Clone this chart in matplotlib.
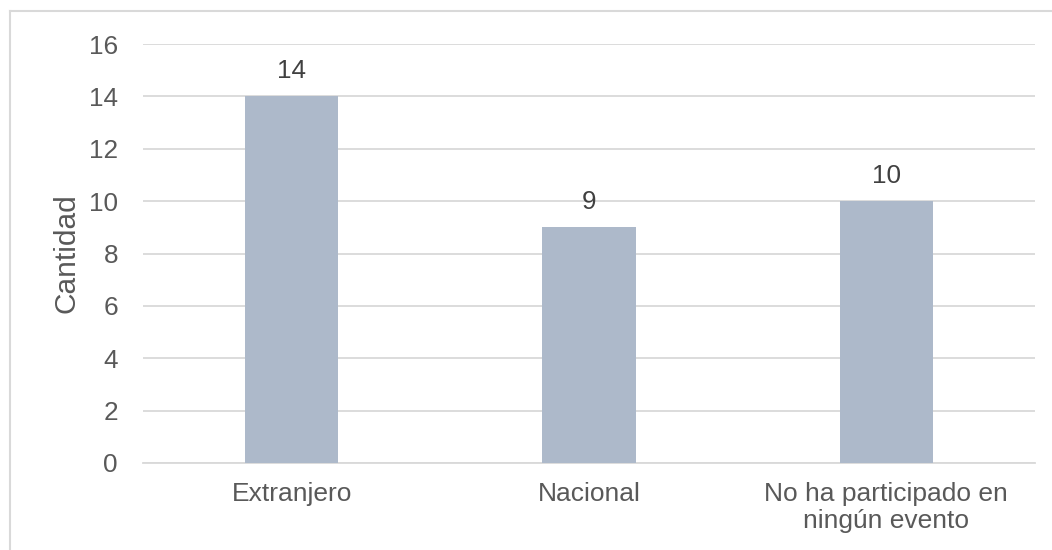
import matplotlib
matplotlib.use("Agg")
import matplotlib.pyplot as plt
from matplotlib.lines import Line2D

categories = ["Extranjero", "Nacional", "No ha participado en\nningún evento"]
values = [14, 9, 10]
yticks = [0, 2, 4, 6, 8, 10, 12, 14, 16]

plt.rcParams['font.family'] = ['Liberation Sans', 'DejaVu Sans']
W, H = 1052, 550
fig = plt.figure(figsize=(W/100, H/100), dpi=100)
ax = fig.add_axes([143/W, 1-463/H, (1035-143)/W, (463-44)/H])

FS = 18.8
x = list(range(len(categories)))
bars = ax.bar(x, values, width=0.313, color="#ADB9CA", zorder=3)
for xi, v in zip(x, values):
    ax.text(xi, v + 0.5, str(v), ha="center", va="bottom", fontsize=FS, color="#404040")

ax.set_xlim(-0.5, len(categories) - 0.5)
ax.set_ylim(0, 16)
ax.set_yticks(yticks)
ax.set_yticklabels([str(t) for t in yticks])
ax.set_xticks(x)
ax.set_xticklabels(categories, fontsize=19, color="#595959", linespacing=1.12)
ax.tick_params(axis='y', labelsize=FS, labelcolor="#595959", length=0, pad=18)
ax.tick_params(axis='x', length=0, pad=14)
ax.grid(axis='y', color="#D9D9D9", linewidth=1.3, zorder=0)
for s in ["top", "right", "left"]:
    ax.spines[s].set_visible(False)
ax.spines["bottom"].set_color("#D9D9D9")
ax.spines["bottom"].set_linewidth(1.3)
ax.set_ylabel("Cantidad", fontsize=21.5, color="#595959", labelpad=6)

# chart area border (partially visible)
fig.add_artist(Line2D([10/W, 10/W], [0, 1-11/H], transform=fig.transFigure, color="#D9D9D9", lw=1.5))
fig.add_artist(Line2D([10/W, 1], [1-11/H, 1-11/H], transform=fig.transFigure, color="#D9D9D9", lw=1.5))

fig.savefig("out.png", dpi=100)
